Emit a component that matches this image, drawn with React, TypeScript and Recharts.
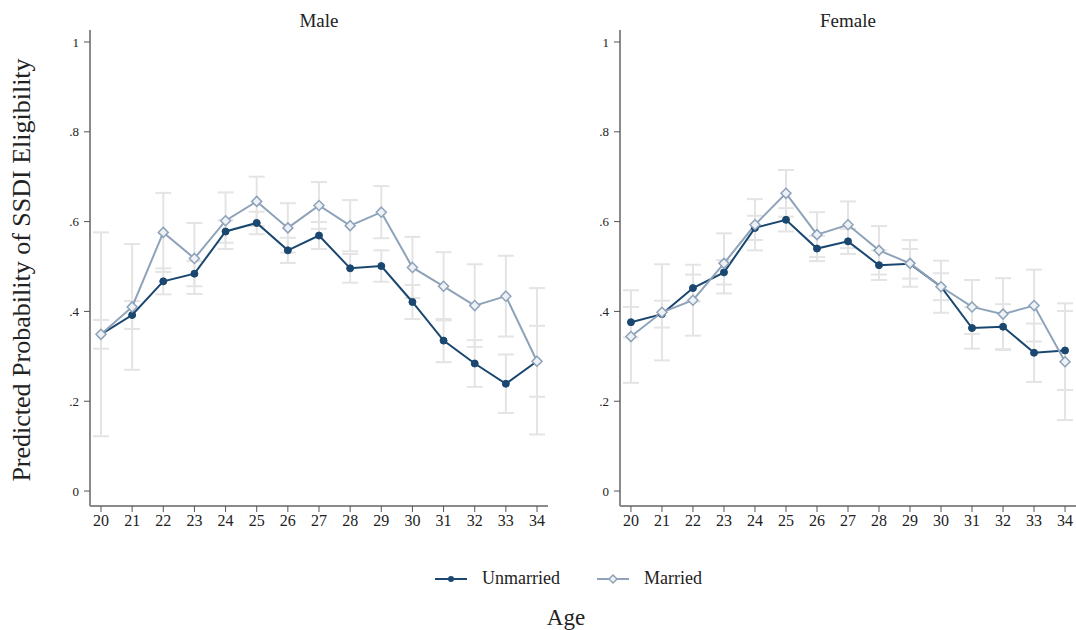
import React from 'react';
import { LineChart, Line, XAxis, YAxis, ErrorBar } from 'recharts';

// Age on the x axis, shared by both panels
const ages = [20, 21, 22, 23, 24, 25, 26, 27, 28, 29, 30, 31, 32, 33, 34];
const yTicks = [0, 0.2, 0.4, 0.6, 0.8, 1];

// Male panel: predicted probability and half-width of the 95% CI
const maleUnmarried = [0.349, 0.392, 0.467, 0.484, 0.578, 0.597, 0.536, 0.569, 0.496, 0.501, 0.421, 0.335, 0.284, 0.239, 0.289];
const maleUnmarriedCi = [0.032, 0.031, 0.029, 0.028, 0.025, 0.025, 0.028, 0.03, 0.032, 0.035, 0.038, 0.048, 0.052, 0.065, 0.079];
const maleMarried = [0.349, 0.41, 0.576, 0.518, 0.602, 0.645, 0.586, 0.636, 0.591, 0.621, 0.498, 0.456, 0.413, 0.434, 0.289];
const maleMarriedCi = [0.227, 0.14, 0.088, 0.079, 0.063, 0.055, 0.055, 0.052, 0.057, 0.058, 0.068, 0.076, 0.092, 0.09, 0.163];

// Female panel
const femaleUnmarried = [0.376, 0.394, 0.452, 0.487, 0.586, 0.604, 0.54, 0.556, 0.503, 0.506, 0.455, 0.363, 0.366, 0.308, 0.313];
const femaleUnmarriedCi = [0.034, 0.03, 0.03, 0.027, 0.027, 0.026, 0.028, 0.028, 0.033, 0.033, 0.03, 0.046, 0.05, 0.065, 0.088];
const femaleMarried = [0.344, 0.398, 0.425, 0.507, 0.593, 0.663, 0.571, 0.593, 0.536, 0.507, 0.455, 0.41, 0.394, 0.413, 0.288];
const femaleMarriedCi = [0.103, 0.107, 0.079, 0.067, 0.057, 0.052, 0.05, 0.052, 0.054, 0.052, 0.058, 0.06, 0.08, 0.08, 0.13];

const FONT = '"Liberation Serif", "DejaVu Serif", serif';
const COLORS = {
  unmarried: '#1a476f',
  married: '#8ea3b9',
  marriedFill: '#eef1f5',
  ci: '#e4e4e4',
  axis: '#8a8a8a',
  tick: '#555555',
  text: '#222222',
};

function formatY(v: number): string {
  if (v === 0) return '0';
  if (v === 1) return '1';
  return v.toFixed(1).replace(/^0/, '');
}

// Hollow diamond marker used for the married series
function Diamond(props: any) {
  const { cx, cy } = props;
  if (cx == null || cy == null) return null;
  const r = 5;
  return (
    <path
      d={`M${cx},${cy - r} L${cx + r},${cy} L${cx},${cy + r} L${cx - r},${cy} Z`}
      fill={COLORS.marriedFill}
      stroke={COLORS.married}
      strokeWidth={1.5}
    />
  );
}

interface PanelProps {
  title: string;
  left: number;
  width: number;
  unmarried: number[];
  unmarriedCi: number[];
  married: number[];
  marriedCi: number[];
}

function Panel({ title, left, width, unmarried, unmarriedCi, married, marriedCi }: PanelProps) {
  const data = ages.map((age, i) => ({
    age,
    unmarried: unmarried[i],
    unmarriedCi: unmarriedCi[i],
    married: married[i],
    marriedCi: marriedCi[i],
  }));

  const plotLeft = 90;
  const plotWidth = width - plotLeft;

  return (
    <div style={{ position: 'absolute', left, top: 0, width, height: 540 }}>
      <div
        style={{
          position: 'absolute',
          left: plotLeft,
          width: plotWidth,
          top: 10,
          textAlign: 'center',
          fontFamily: FONT,
          fontSize: 19,
          color: COLORS.text,
          lineHeight: '22px',
        }}
      >
        {title}
      </div>
      <LineChart width={width} height={540} data={data} margin={{ top: 30, right: 0, bottom: 0, left: 0 }}>
        <XAxis
          dataKey="age"
          type="number"
          domain={[19.647, 34.353]}
          ticks={ages}
          interval={0}
          height={34}
          tickSize={6}
          tickMargin={3}
          axisLine={{ stroke: COLORS.axis, strokeWidth: 2 }}
          tickLine={{ stroke: COLORS.tick }}
          tick={{ fontSize: 16, fill: COLORS.text, fontFamily: FONT }}
          allowDataOverflow
        />
        <YAxis
          type="number"
          domain={[-0.0333, 1.0267]}
          ticks={yTicks}
          width={plotLeft}
          tickSize={6}
          tickMargin={5}
          tickFormatter={formatY}
          axisLine={{ stroke: COLORS.axis, strokeWidth: 2 }}
          tickLine={{ stroke: COLORS.tick }}
          tick={{ fontSize: 13, fill: COLORS.text, fontFamily: FONT }}
          allowDataOverflow
        />
        {/* Confidence intervals drawn first so they sit behind both lines */}
        <Line dataKey="married" stroke="none" dot={false} activeDot={false} isAnimationActive={false}>
          <ErrorBar dataKey="marriedCi" direction="y" width={8} stroke={COLORS.ci} strokeWidth={2} isAnimationActive={false} />
        </Line>
        <Line dataKey="unmarried" stroke="none" dot={false} activeDot={false} isAnimationActive={false}>
          <ErrorBar dataKey="unmarriedCi" direction="y" width={8} stroke={COLORS.ci} strokeWidth={2} isAnimationActive={false} />
        </Line>
        <Line
          dataKey="unmarried"
          type="linear"
          stroke={COLORS.unmarried}
          strokeWidth={2}
          dot={{ r: 3.5, fill: COLORS.unmarried, stroke: COLORS.unmarried, strokeWidth: 1 }}
          activeDot={false}
          isAnimationActive={false}
        />
        <Line
          dataKey="married"
          type="linear"
          stroke={COLORS.married}
          strokeWidth={2}
          dot={<Diamond />}
          activeDot={false}
          isAnimationActive={false}
        />
      </LineChart>
    </div>
  );
}

function LegendItem({ label, color, marker }: { label: string; color: string; marker: 'circle' | 'diamond' }) {
  return (
    <div style={{ display: 'flex', alignItems: 'center', gap: 14 }}>
      <svg width={34} height={14}>
        <line x1={1} y1={7} x2={33} y2={7} stroke={color} strokeWidth={2} />
        {marker === 'circle' ? (
          <circle cx={17} cy={7} r={3} fill={color} />
        ) : (
          <path d="M17,3 L21,7 L17,11 L13,7 Z" fill={COLORS.marriedFill} stroke={color} strokeWidth={1.5} />
        )}
      </svg>
      <span style={{ fontFamily: FONT, fontSize: 18, color: COLORS.text }}>{label}</span>
    </div>
  );
}

export default function App() {
  return (
    <div style={{ position: 'absolute', left: 0, top: 0, width: 1076, height: 630, background: '#fff', overflow: 'hidden' }}>
      <div
        style={{
          position: 'absolute',
          left: 22,
          top: 270,
          transform: 'translate(-50%, -50%) rotate(-90deg)',
          whiteSpace: 'nowrap',
          fontFamily: FONT,
          fontSize: 26,
          color: COLORS.text,
        }}
      >
        Predicted Probability of SSDI Eligibility
      </div>
      <Panel
        title="Male"
        left={0}
        width={548}
        unmarried={maleUnmarried}
        unmarriedCi={maleUnmarriedCi}
        married={maleMarried}
        marriedCi={maleMarriedCi}
      />
      <Panel
        title="Female"
        left={530}
        width={546}
        unmarried={femaleUnmarried}
        unmarriedCi={femaleUnmarriedCi}
        married={femaleMarried}
        marriedCi={femaleMarriedCi}
      />
      <div
        style={{
          position: 'absolute',
          left: 0,
          width: 1076,
          top: 568,
          display: 'flex',
          justifyContent: 'center',
          gap: 36,
          paddingLeft: 60,
          boxSizing: 'border-box',
        }}
      >
        <LegendItem label="Unmarried" color={COLORS.unmarried} marker="circle" />
        <LegendItem label="Married" color={COLORS.married} marker="diamond" />
      </div>
      <div
        style={{
          position: 'absolute',
          left: 0,
          width: 1076,
          paddingLeft: 56,
          boxSizing: 'border-box',
          top: 605,
          textAlign: 'center',
          fontFamily: FONT,
          fontSize: 23,
          color: COLORS.text,
        }}
      >
        Age
      </div>
    </div>
  );
}
